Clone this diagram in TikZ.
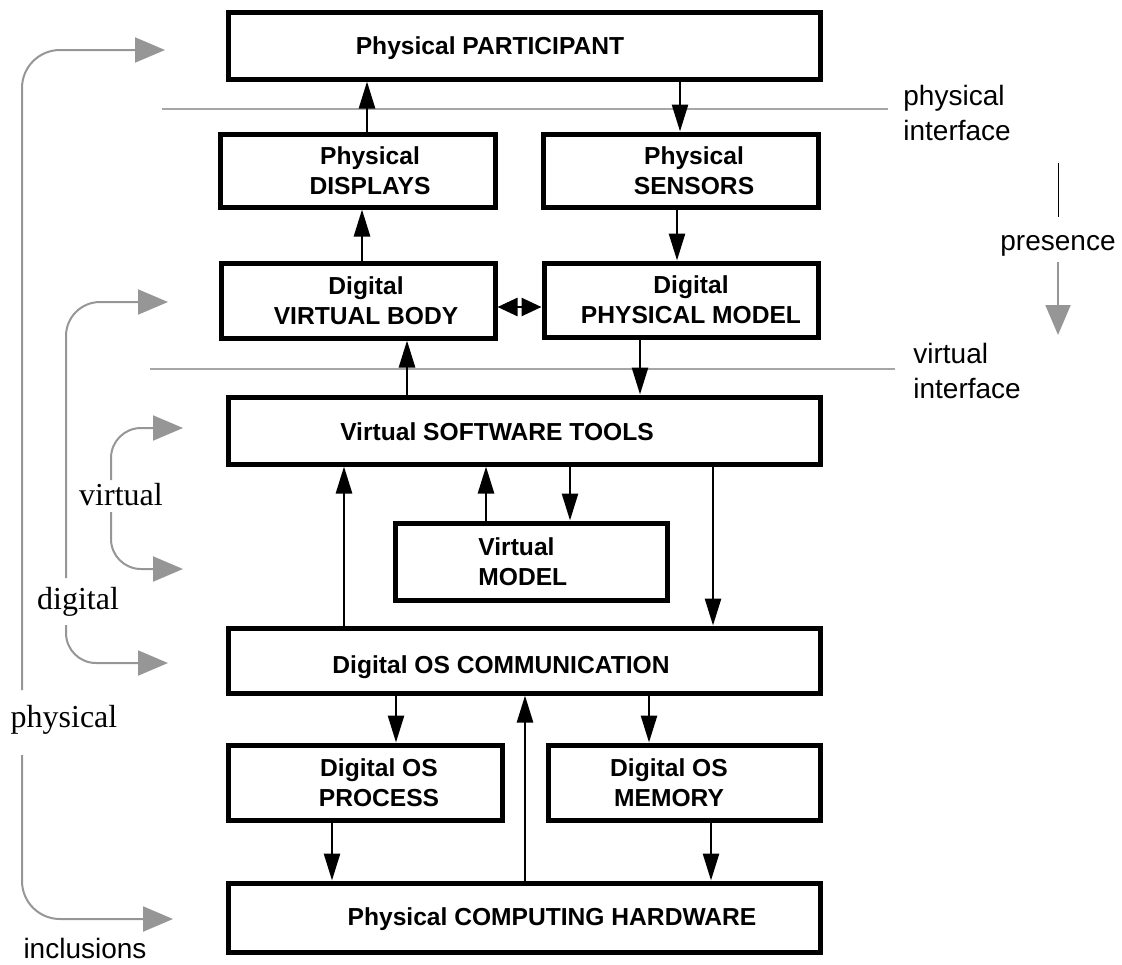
\documentclass[tikz,border=0pt]{standalone}
\usepackage{fontspec}
\setmainfont{Liberation Serif}
\setsansfont{Liberation Sans}
\usetikzlibrary{arrows.meta,fit}
\definecolor{inclgray}{HTML}{969696}
\definecolor{linegray}{HTML}{A6A6A6}

\tikzset{
  box/.style={draw, line width=2.5pt, inner sep=0pt},
  boxtext/.style={font=\sffamily\bfseries\fontsize{12.3}{15}\selectfont, align=center, inner sep=0pt},
  conn/.style={line width=1.3pt, -{Triangle[length=13.5pt,width=8pt]}},
  twoway/.style={line width=1.3pt, {Triangle[length=10pt,width=9pt]}-{Triangle[length=10pt,width=9pt]}},
  iface/.style={draw=linegray, line width=0.8pt},
  incl/.style={draw=inclgray, line width=1pt, -{Triangle[length=15pt,width=12.5pt]}},
  note/.style={font=\sffamily\fontsize{14}{17.5}\selectfont, align=left, inner sep=0pt},
  level/.style={font=\fontsize{16}{19}\selectfont, inner sep=0pt},
}

\begin{document}
\begin{tikzpicture}[x=0.5pt, y=-0.5pt]
\useasboundingbox (0,0) rectangle (1122,964);

% boxes
\node[box, fit={(228,12) (820,79)}] (part) {};
\node[boxtext, anchor=base] (partT) at (490,54) {Physical PARTICIPANT};
\node[box, fit={(220,134) (495,207)}] (displays) {};
\node[boxtext] (displaysT) at (370,170.5) {Physical\\DISPLAYS};
\node[box, fit={(543,134) (818,207)}] (sensors) {};
\node[boxtext] (sensorsT) at (694,170.5) {Physical\\SENSORS};
\node[box, fit={(221,263) (495,338)}] (vbody) {};
\node[boxtext] (vbodyT) at (366,300.5) {Digital\\VIRTUAL BODY};
\node[box, fit={(544,263) (818,337)}] (pmodel) {};
\node[boxtext] (pmodelT) at (691,300) {Digital\\PHYSICAL MODEL};
\node[box, fit={(228,397) (820,464)}] (tools) {};
\node[boxtext, anchor=base] (toolsT) at (497,440) {Virtual SOFTWARE TOOLS};
\node[box, fit={(395,523) (667,600)}] (vmodel) {};
\node[boxtext, align=left, anchor=west] (vmodelT) at (478,561.5) {Virtual\\MODEL};
\node[box, fit={(228,628) (820,693)}] (comm) {};
\node[boxtext, anchor=base] (commT) at (501,673) {Digital OS COMMUNICATION};
\node[box, fit={(228,745) (502,820)}] (process) {};
\node[boxtext] (processT) at (379,782.5) {Digital OS\\PROCESS};
\node[box, fit={(548,745) (820,820)}] (memory) {};
\node[boxtext] (memoryT) at (669,782.5) {Digital OS\\MEMORY};
\node[box, fit={(228,883) (820,952)}] (hardware) {};
\node[boxtext, anchor=base] (hardwareT) at (552,925) {Physical COMPUTING HARDWARE};

% interfaces
\draw[iface] (162,109) -- (888,109);
\draw[iface] (150,369) -- (895,369);
\node[note, anchor=west] (physif) at (903,112.5) {physical\\interface};
\node[note, anchor=west] (virtif) at (913,371) {virtual\\interface};

% presence
\node[note, anchor=base] (presence) at (1058,250) {presence};
\draw[line width=0.4pt] (1058,163) -- (1058,217);
\draw[incl] (1058,262) -- (1058,335);

% flows
\draw[conn] (displays.north -| 367,0) -- (part.south -| 367,0);
\draw[conn] (part.south -| 680,0) -- (sensors.north -| 680,0);
\draw[conn] (vbody.north -| 362,0) -- (displays.south -| 362,0);
\draw[conn] (sensors.south -| 677,0) -- (pmodel.north -| 677,0);
\draw[twoway] (vbody.east |- 0,307) -- (pmodel.west |- 0,307);
\draw[conn] (tools.north -| 407,0) -- (vbody.south -| 407,0);
\draw[conn] (pmodel.south -| 640,0) -- (tools.north -| 640,0);
\draw[conn] (comm.north -| 344,0) -- (tools.south -| 344,0);
\draw[conn] (vmodel.north -| 486,0) -- (tools.south -| 486,0);
\draw[conn] (tools.south -| 570,0) -- (vmodel.north -| 570,0);
\draw[conn] (tools.south -| 713,0) -- (comm.north -| 713,0);
\draw[conn] (comm.south -| 396,0) -- (process.north -| 396,0);
\draw[conn] (hardware.north -| 525,0) -- (comm.south -| 525,0);
\draw[conn] (comm.south -| 649,0) -- (memory.north -| 649,0);
\draw[conn] (process.south -| 332,0) -- (hardware.north -| 332,0);
\draw[conn] (memory.south -| 711,0) -- (hardware.north -| 711,0);

% inclusions
\node[level, anchor=base] (physical) at (64,727) {physical};
\node[level, anchor=base] (digital) at (78,609) {digital};
\node[level, anchor=base] (virtual) at (121,505) {virtual};
\node[note, anchor=base] (inclusions) at (85,958) {inclusions};
\draw[incl, rounded corners=19pt] (22,690) |- (165,50);
\draw[incl, rounded corners=19pt] (22,755) |- (173,919);
\draw[incl, rounded corners=17pt] (66,578) |- (168,302);
\draw[incl, rounded corners=15pt] (66,625) |- (168,663);
\draw[incl, rounded corners=15pt] (111,480) |- (183,428);
\draw[incl, rounded corners=15pt] (111,512) |- (183,569);
\end{tikzpicture}
\end{document}
